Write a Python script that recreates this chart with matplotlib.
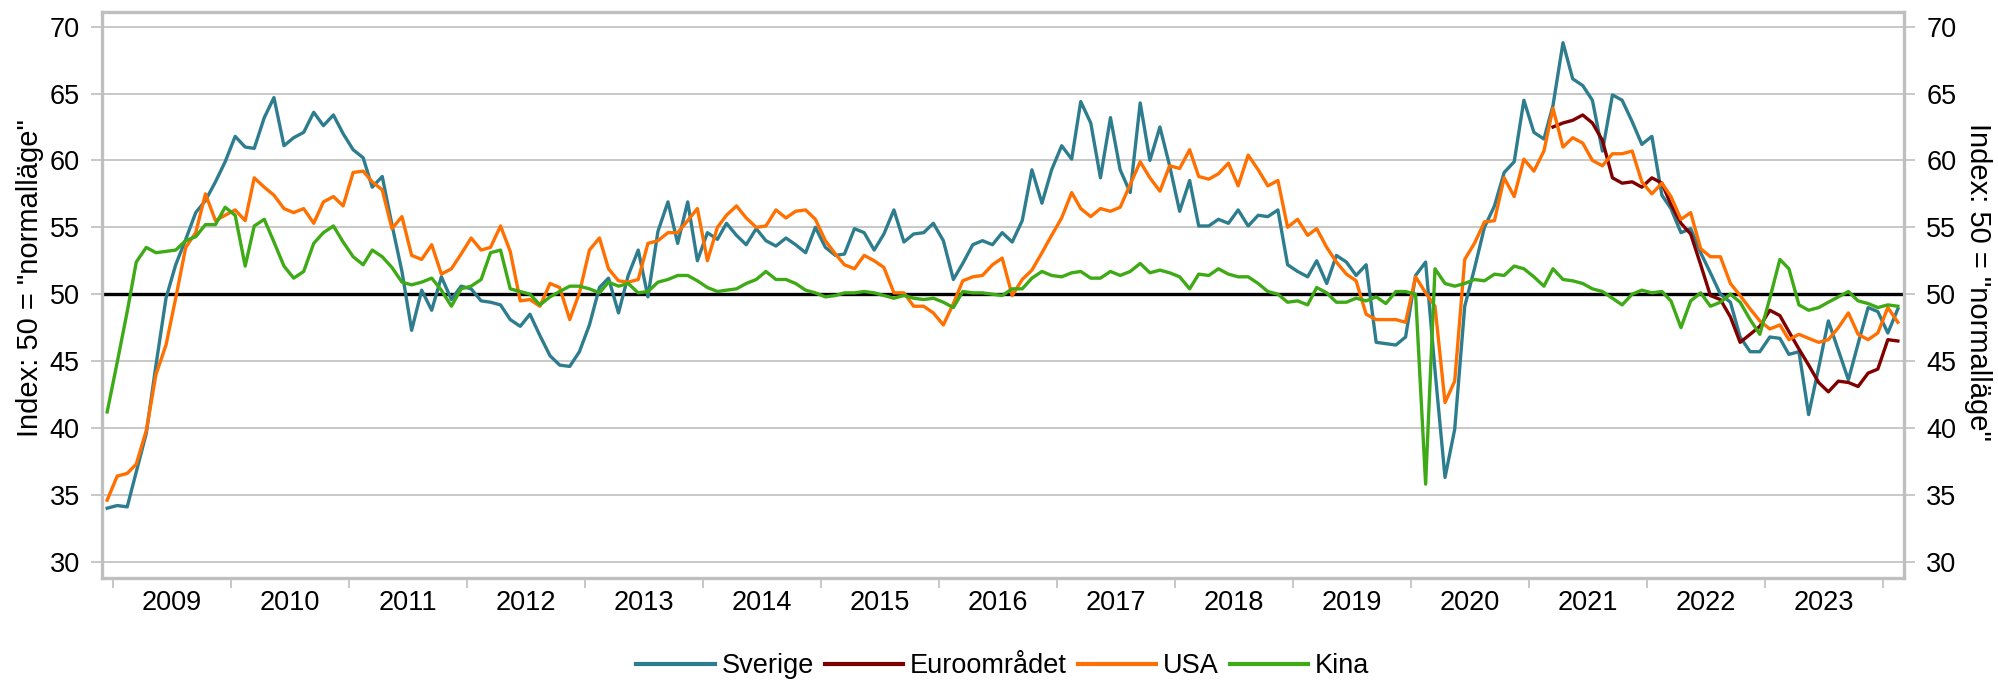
import matplotlib
matplotlib.use("Agg")
import numpy as np
import pandas as pd
import matplotlib.pyplot as plt

plt.rcParams['font.family'] = ['Liberation Sans', 'DejaVu Sans']

# monthly values, Dec 2008 - Feb 2024
months = pd.date_range("2008-12-01", "2024-02-01", freq="MS") + pd.Timedelta(days=14)

sverige = [34.0, 34.2, 34.1, 36.7, 39.6, 44.7, 49.7, 52.2, 54.1, 56.1, 57.0, 58.4, 59.9,
           61.8, 61.0, 60.9, 63.2, 64.7, 61.1, 61.7, 62.1, 63.6, 62.6, 63.4, 62.0,
           60.8, 60.2, 58.0, 58.8, 55.2, 51.7, 47.3, 50.3, 48.8, 51.3, 49.6, 50.6,
           50.4, 49.5, 49.4, 49.2, 48.1, 47.6, 48.5, 46.9, 45.4, 44.7, 44.6, 45.7,
           47.7, 50.5, 51.2, 48.6, 51.4, 53.3, 49.8, 54.7, 56.9, 53.8, 56.9, 52.5,
           54.6, 54.1, 55.3, 54.4, 53.7, 54.9, 54.0, 53.6, 54.2, 53.7, 53.1, 55.0,
           53.5, 52.9, 53.0, 54.9, 54.6, 53.3, 54.5, 56.3, 53.9, 54.5, 54.6, 55.3,
           54.0, 51.1, 52.3, 53.7, 54.0, 53.7, 54.6, 53.9, 55.5, 59.3, 56.8, 59.3,
           61.1, 60.1, 64.4, 62.8, 58.7, 63.2, 59.3, 57.6, 64.3, 60.0, 62.5, 59.6,
           56.2, 58.5, 55.1, 55.1, 55.6, 55.3, 56.3, 55.1, 55.9, 55.8, 56.3, 52.2,
           51.7, 51.3, 52.5, 50.8, 52.9, 52.4, 51.4, 52.2, 46.4, 46.3, 46.2, 46.8,
           51.4, 52.4, 44.3, 36.3, 39.9, 49.1, 51.9, 55.0, 56.6, 59.1, 59.9, 64.5,
           62.1, 61.6, 64.1, 68.8, 66.1, 65.6, 64.5, 60.7, 64.9, 64.5, 62.9, 61.2,
           61.8, 57.4, 56.4, 54.6, 54.9, 53.1, 51.6, 50.0, 49.4, 46.8, 45.7, 45.7,
           46.8, 46.7, 45.5, 45.7, 41.0, 44.5, 48.0, 45.8, 43.6, 46.3, 49.0, 48.7,
           47.1, 48.9]

usa = [34.6, 36.4, 36.6, 37.3, 39.8, 44.0, 46.2, 49.7, 53.5, 54.6, 57.5, 55.5, 55.9,
       56.3, 55.5, 58.7, 58.0, 57.4, 56.4, 56.1, 56.4, 55.3, 56.9, 57.3, 56.6,
       59.1, 59.2, 58.4, 57.8, 54.9, 55.8, 52.9, 52.6, 53.7, 51.5, 51.9, 53.0,
       54.2, 53.3, 53.5, 55.1, 53.2, 49.5, 49.6, 49.1, 50.8, 50.5, 48.1, 50.1,
       53.3, 54.2, 51.9, 51.0, 50.9, 51.1, 53.8, 54.0, 54.6, 54.6, 55.5, 56.4,
       52.5, 55.0, 55.9, 56.6, 55.7, 55.0, 55.1, 56.3, 55.7, 56.2, 56.3, 55.6,
       54.0, 53.0, 52.2, 51.9, 52.9, 52.5, 52.0, 50.1, 50.1, 49.1, 49.1, 48.6,
       47.7, 49.3, 51.0, 51.3, 51.4, 52.2, 52.7, 49.9, 51.1, 51.8, 53.1, 54.4,
       55.7, 57.6, 56.4, 55.8, 56.4, 56.2, 56.5, 58.2, 59.9, 58.7, 57.7, 59.6,
       59.4, 60.8, 58.8, 58.6, 59.0, 59.8, 58.1, 60.4, 59.3, 58.1, 58.5, 55.0,
       55.6, 54.4, 54.9, 53.5, 52.4, 51.5, 51.0, 48.5, 48.1, 48.1, 48.1, 47.9,
       51.3, 50.1, 49.1, 41.9, 43.5, 52.6, 53.8, 55.4, 55.5, 58.7, 57.3, 60.1,
       59.2, 60.7, 63.9, 61.0, 61.7, 61.3, 60.0, 59.6, 60.5, 60.5, 60.7, 58.4,
       57.5, 58.3, 57.3, 55.6, 56.1, 53.4, 52.8, 52.8, 50.8, 49.9, 48.9, 48.0,
       47.4, 47.7, 46.6, 47.0, 46.7, 46.4, 46.6, 47.5, 48.6, 47.0, 46.6, 47.1,
       49.0, 47.9]

kina = [41.2, 44.9, 48.7, 52.4, 53.5, 53.1, 53.2, 53.3, 54.0, 54.3, 55.2, 55.2, 56.5,
        55.9, 52.1, 55.1, 55.6, 53.9, 52.1, 51.2, 51.7, 53.8, 54.6, 55.1, 53.9,
        52.8, 52.2, 53.3, 52.8, 52.0, 50.9, 50.7, 50.9, 51.2, 50.3, 49.1, 50.4,
        50.6, 51.1, 53.1, 53.3, 50.4, 50.2, 50.0, 49.2, 49.8, 50.2, 50.6, 50.6,
        50.4, 50.1, 50.9, 50.6, 50.8, 50.1, 50.2, 50.9, 51.1, 51.4, 51.4, 51.0,
        50.5, 50.2, 50.3, 50.4, 50.8, 51.1, 51.7, 51.1, 51.1, 50.8, 50.3, 50.1,
        49.8, 49.9, 50.1, 50.1, 50.2, 50.1, 49.9, 49.7, 49.9, 49.7, 49.6, 49.7,
        49.4, 49.0, 50.2, 50.1, 50.1, 50.0, 49.9, 50.4, 50.4, 51.2, 51.7, 51.4,
        51.3, 51.6, 51.7, 51.2, 51.2, 51.7, 51.4, 51.7, 52.3, 51.6, 51.8, 51.6,
        51.3, 50.4, 51.5, 51.4, 51.9, 51.5, 51.3, 51.3, 50.8, 50.2, 50.0, 49.4,
        49.5, 49.2, 50.5, 50.1, 49.4, 49.4, 49.7, 49.5, 49.8, 49.3, 50.2, 50.2,
        50.0, 35.8, 51.9, 50.8, 50.6, 50.8, 51.1, 51.0, 51.5, 51.4, 52.1, 51.9,
        51.3, 50.6, 51.9, 51.1, 51.0, 50.8, 50.4, 50.2, 49.7, 49.2, 50.0, 50.3,
        50.1, 50.2, 49.5, 47.5, 49.5, 50.1, 49.1, 49.4, 50.0, 49.4, 48.1, 47.0,
        49.7, 52.6, 51.9, 49.2, 48.8, 49.0, 49.4, 49.8, 50.2, 49.5, 49.3, 49.0,
        49.2, 49.1]

# euro area series starts Mar 2021
euro_start = "2021-03-01"
euro = [62.5, 62.8, 63.0, 63.4, 62.8, 61.5, 58.7, 58.3, 58.4, 58.0,
        58.7, 58.3, 56.7, 55.3, 54.5, 52.2, 49.9, 49.6, 48.3, 46.4, 47.0, 47.6,
        48.8, 48.4, 47.2, 45.9, 44.7, 43.4, 42.7, 43.5, 43.4, 43.1, 44.1, 44.4,
        46.6, 46.5]
euro_months = pd.date_range(euro_start, periods=len(euro), freq="MS") + pd.Timedelta(days=14)

years = list(range(2009, 2024))
year_labels = [str(y) for y in years]
y_ticks = [30, 35, 40, 45, 50, 55, 60, 65, 70]
ylabel = 'Index: 50 = "normalläge"'

grey = '#BFBFBF'
fs = 19.5

fig = plt.figure(figsize=(19.98, 6.8), dpi=100)
ax = fig.add_axes([0.05105, 0.14956, 0.9019, 0.83324])

ax.axhline(50, color='black', lw=2.4, zorder=1.5)
l1, = ax.plot(months, sverige, color='#2E7D8F', lw=2.4, label='Sverige', zorder=2)
l2, = ax.plot(euro_months, euro, color='#800000', lw=2.4, label='Euroområdet', zorder=2)
l3, = ax.plot(months, usa, color='#FF7000', lw=2.4, label='USA', zorder=2)
l4, = ax.plot(months, kina, color='#3EAA16', lw=2.4, label='Kina', zorder=2)

ax.set_xlim(pd.Timestamp("2008-11-29"), pd.Timestamp("2024-03-05"))
ax.set_ylim(28.76, 71.12)
ax.set_yticks(y_ticks)
ax.yaxis.grid(True, color=grey, lw=1.2)
ax.set_axisbelow(True)

# year ticks at boundaries, labels in the middle of each year
ax.set_xticks(pd.date_range("2009-01-01", "2024-01-01", freq="YS"))
ax.set_xticklabels([])
ax.set_xticks([pd.Timestamp(f"{y}-07-02") for y in years], minor=True)
ax.set_xticklabels(year_labels, minor=True)
ax.tick_params(axis='x', which='major', direction='out', length=7.5, width=1.2, color=grey)
ax.tick_params(axis='x', which='minor', length=0, labelsize=fs, pad=8.5)
ax.tick_params(axis='y', direction='out', length=8, width=1.2, color=grey,
               labelsize=fs, pad=8)

for s in ax.spines.values():
    s.set_color(grey)
    s.set_linewidth(2.4)

# right hand axis with same scale
ax2 = ax.twinx()
ax2.set_ylim(ax.get_ylim())
ax2.set_yticks(y_ticks)
ax2.tick_params(axis='y', direction='out', length=8, width=1.2, color=grey,
                labelsize=fs, pad=8)
for s in ax2.spines.values():
    s.set_visible(False)

fig.text(30 / 1998, 0.5904, ylabel, rotation=90, ha='center', va='center', fontsize=21)
fig.text(1978 / 1998, 0.585, ylabel, rotation=270, ha='center', va='center', fontsize=21)

leg = fig.legend(handles=[l1, l2, l3, l4], loc='center', bbox_to_anchor=(0.502, 0.0206),
                 ncol=4, frameon=False, fontsize=fs, handlelength=2.9,
                 handletextpad=0.25, columnspacing=0.4)
for h in leg.get_lines():
    h.set_linewidth(3.0)

fig.savefig('out.png', dpi=100)
